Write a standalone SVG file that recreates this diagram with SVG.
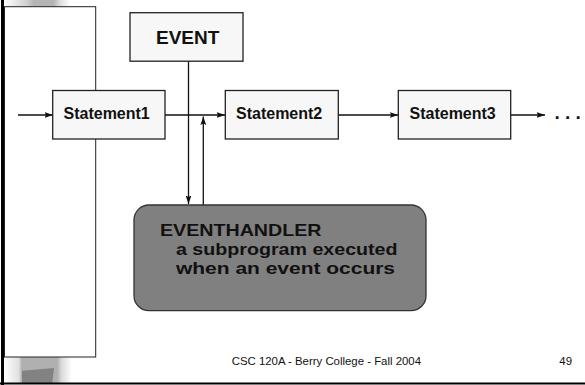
<svg xmlns="http://www.w3.org/2000/svg" width="585" height="385" viewBox="0 0 585 385">
  <defs>
    <linearGradient id="barGrad" x1="0" y1="0" x2="1" y2="0">
      <stop offset="0" stop-color="#ffffff"/>
      <stop offset="0.35" stop-color="#d0d0d0"/>
      <stop offset="0.45" stop-color="#b4b4b4"/>
      <stop offset="0.75" stop-color="#b4b4b4"/>
      <stop offset="0.85" stop-color="#dedede"/>
      <stop offset="1" stop-color="#ffffff"/>
    </linearGradient>
    <linearGradient id="footGrad" x1="0" y1="0" x2="1" y2="0">
      <stop offset="0" stop-color="#ffffff"/>
      <stop offset="0.22" stop-color="#e0e0e0"/>
      <stop offset="0.26" stop-color="#b0b0b0"/>
      <stop offset="0.78" stop-color="#b0b0b0"/>
      <stop offset="0.85" stop-color="#dcdcdc"/>
      <stop offset="1" stop-color="#ffffff"/>
    </linearGradient>
    <marker id="arr" markerWidth="9" markerHeight="7" refX="8.5" refY="3.5" orient="auto" markerUnits="userSpaceOnUse">
      <path d="M0,0.6 L8.5,3.5 L0,6.4 L1.5,3.5 Z" fill="#111"/>
    </marker>
    <style>
      .box { fill: #f7f7f7; stroke: #222; stroke-width: 1.3; }
      .lbl { font-family: "Liberation Sans", Arial, sans-serif; font-weight: bold; fill: #111; }
      .conn { stroke: #111; stroke-width: 1.3; fill: none; marker-end: url(#arr); }
      .foot { font-family: "Liberation Sans", Arial, sans-serif; font-size: 11.4px; fill: #111; }
    </style>
  </defs>

  <rect width="585" height="385" fill="#ffffff"/>

  <!-- slide decoration -->
  <rect x="4" y="0" width="66" height="6.5" fill="url(#barGrad)"/>
  <rect x="4" y="357" width="68" height="26" fill="url(#footGrad)"/>
  <polygon points="22,370.7 54,368 52.3,383 22,383" fill="#828282"/>
  <rect x="4.5" y="6.7" width="91.2" height="350.3" fill="none" stroke="#222" stroke-width="1"/>
  <line x1="2.5" y1="0" x2="2.5" y2="385" stroke="#000" stroke-width="3"/>
  <line x1="0" y1="383.5" x2="585" y2="383.5" stroke="#000" stroke-width="2"/>

  <!-- connectors -->
  <g id="connectors">
    <line class="conn" x1="18" y1="115" x2="53" y2="115"/>
    <line class="conn" x1="165" y1="115" x2="225" y2="115"/>
    <line class="conn" x1="338.3" y1="115" x2="398.3" y2="115"/>
    <line class="conn" x1="510.7" y1="115" x2="545" y2="115"/>
    <line class="conn" x1="188.5" y1="61" x2="188.5" y2="204"/>
    <line class="conn" x1="203.3" y1="205" x2="203.3" y2="116.5"/>
  </g>

  <g id="event">
    <rect class="box" x="130" y="12.7" width="113" height="48.5"/>
    <text class="lbl" x="156" y="44" font-size="19">EVENT</text>
  </g>

  <g id="statement1">
    <rect class="box" x="52.7" y="90.5" width="112.3" height="48.5"/>
    <text class="lbl" x="63.5" y="119.3" font-size="16">Statement1</text>
  </g>

  <g id="statement2">
    <rect class="box" x="225.3" y="90.5" width="113" height="48.5"/>
    <text class="lbl" x="236" y="119.3" font-size="16">Statement2</text>
  </g>

  <g id="statement3">
    <rect class="box" x="398.3" y="90.5" width="112.4" height="48.5"/>
    <text class="lbl" x="409.5" y="119.3" font-size="16">Statement3</text>
  </g>

  <g id="ellipsis">
    <text class="lbl" x="554.5" y="118.6" font-size="19">. . .</text>
  </g>

  <g id="eventhandler">
    <rect x="134" y="205" width="292" height="105.7" rx="15" ry="15" fill="#808080" stroke="#333" stroke-width="1.3"/>
    <text class="lbl" x="160" y="235.5" font-size="16.5" textLength="161.5" lengthAdjust="spacingAndGlyphs">EVENTHANDLER</text>
    <text class="lbl" x="176" y="254.5" font-size="16.5" textLength="221.5" lengthAdjust="spacingAndGlyphs">a subprogram executed</text>
    <text class="lbl" x="176" y="273.5" font-size="16.5" textLength="219" lengthAdjust="spacingAndGlyphs">when an event occurs</text>
  </g>

  <g id="footer">
    <text class="foot" x="231.7" y="365">CSC 120A - Berry College - Fall 2004</text>
    <text class="foot" x="572" y="365" text-anchor="end">49</text>
  </g>
</svg>
